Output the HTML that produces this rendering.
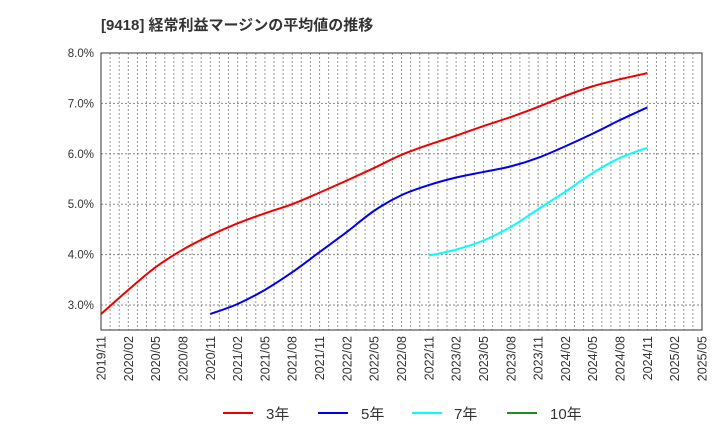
<!DOCTYPE html>
<html><head><meta charset="utf-8"><style>
body{margin:0;background:#fff;}
svg{display:block;font-family:"Liberation Sans","Noto Sans CJK JP",sans-serif;}
</style></head><body>
<svg id="chart" width="720" height="440">
<text x="101" y="30" font-size="15" font-weight="bold" fill="#333">[9418]  経常利益マージンの平均値の推移</text>
<g id="grid"></g>
<rect x="101" y="53" width="601" height="277" fill="none" stroke="#333" stroke-width="1"/>
<g id="yt"></g><g id="xt"></g><g id="series"></g>
<g>
 <g><line x1="223" y1="413" x2="253" y2="413" stroke="#e00" stroke-width="2"/><text x="266" y="419" font-size="15" fill="#333">3年</text></g>
 <g><line x1="318" y1="413" x2="348" y2="413" stroke="#00e" stroke-width="2"/><text x="361" y="419" font-size="15" fill="#333">5年</text></g>
 <g><line x1="412" y1="413" x2="442" y2="413" stroke="#0ff" stroke-width="2"/><text x="454" y="419" font-size="15" fill="#333">7年</text></g>
 <g><line x1="507" y1="413" x2="537" y2="413" stroke="#228b22" stroke-width="2"/><text x="550" y="419" font-size="15" fill="#333">10年</text></g>
</g>
</svg>
<script>
const xLabels=["2019/11","2020/02","2020/05","2020/08","2020/11","2021/02","2021/05","2021/08","2021/11","2022/02","2022/05","2022/08","2022/11","2023/02","2023/05","2023/08","2023/11","2024/02","2024/05","2024/08","2024/11","2025/02","2025/05"];
const yTicks=[3,4,5,6,7,8];
const s3=[2.82,3.3,3.75,4.1,4.38,4.62,4.82,5.0,5.23,5.47,5.72,5.98,6.18,6.36,6.55,6.73,6.93,7.15,7.34,7.48,7.6];
const s5=[2.82,3.02,3.3,3.65,4.05,4.45,4.87,5.18,5.38,5.53,5.64,5.75,5.92,6.15,6.4,6.67,6.92];
const s7=[3.98,4.1,4.28,4.55,4.9,5.25,5.62,5.92,6.12];
const start5=4, start7=12;
const NS="http://www.w3.org/2000/svg";
const X0=101,X1=702,Y0=330,Y1=53;
const xs=q=>X0+q*(X1-X0)/22;
const xm=m=>X0+m*(X1-X0)/66;
const ys=v=>305-(v-3)*50.4;
function mk(t,a,p){const e=document.createElementNS(NS,t);for(const k in a)e.setAttribute(k,a[k]);p.appendChild(e);return e;}
const g=document.getElementById('grid');
for(let m=1;m<66;m++){const l=mk('line',{x1:xm(m),x2:xm(m),y1:Y1,y2:Y0,stroke:'#999','stroke-dasharray':'2,2','stroke-width':1},g);

}
yTicks.forEach(v=>{const y=ys(v);const l=mk('line',{x1:X0,x2:X1,y1:y,y2:y,stroke:'#888','stroke-dasharray':'2,2','stroke-width':1},g);

});
const yt=document.getElementById('yt');
yTicks.forEach(v=>{const t=mk('text',{x:94,y:ys(v)+4,'text-anchor':'end','font-size':11.5,fill:'#333'},yt);t.textContent=v.toFixed(1)+'%';

});
const xt=document.getElementById('xt');
xLabels.forEach((s,i)=>{const x=xs(i)+4.5;const t=mk('text',{x:x,y:336,'text-anchor':'end','font-size':12.5,fill:'#333',transform:`rotate(-90 ${x} 336)`},xt);t.textContent=s;

});
function path(arr,st){const p=arr.map((v,i)=>[xs(st+i),ys(v)]);let d=`M${p[0][0]},${p[0][1]}`;
for(let i=0;i<p.length-1;i++){const a=p[Math.max(i-1,0)],b=p[i],c=p[i+1],e=p[Math.min(i+2,p.length-1)];
d+=` C${b[0]+(c[0]-a[0])/6},${b[1]+(c[1]-a[1])/6} ${c[0]-(e[0]-b[0])/6},${c[1]-(e[1]-b[1])/6} ${c[0]},${c[1]}`;}return d;}
const sg=document.getElementById('series');
[[s3,0,'#e00','series-3y'],[s5,start5,'#00e','series-5y'],[s7,start7,'#0ff','series-7y']].forEach(([a,st,c,n])=>{
const l=mk('path',{d:path(a,st),fill:'none',stroke:c,'stroke-width':2},sg);

});
</script>
</body></html>
